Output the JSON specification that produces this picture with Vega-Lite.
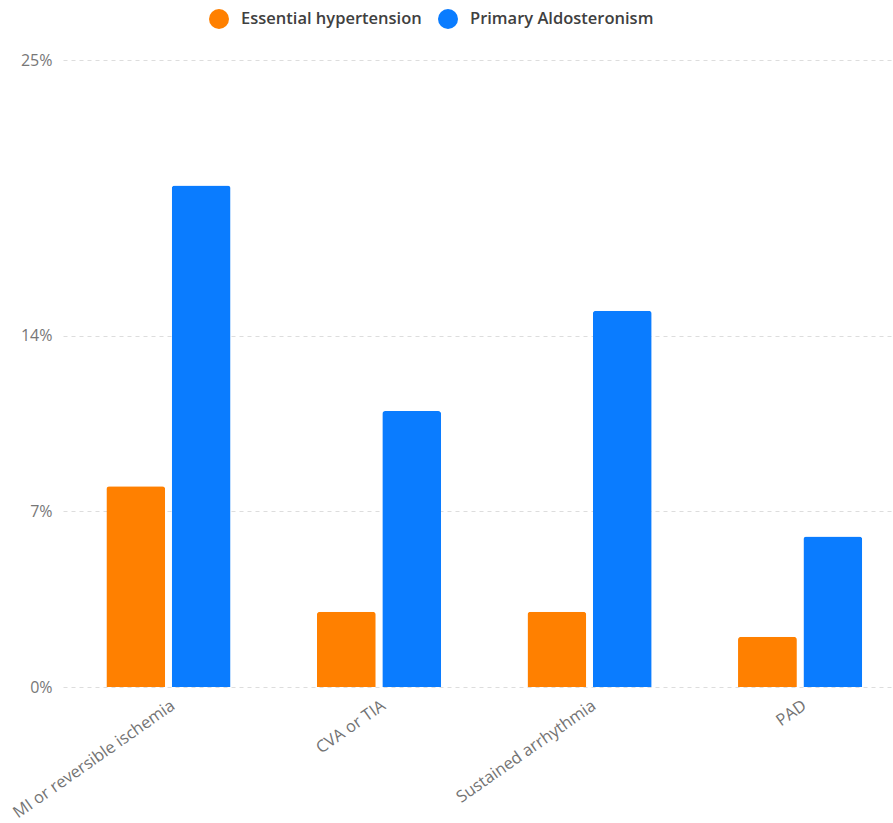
{
  "$schema": "https://vega.github.io/schema/vega-lite/v6.json",
  "autosize": {"type": "none"},
  "width": 830,
  "height": 627,
  "padding": {"left": 63, "top": 60, "right": 0, "bottom": 136},
  "background": "white",
  "config": {
    "font": "Open Sans",
    "view": {"stroke": null}
  },
  "data": {
    "values": [
      {"outcome": "MI or reversible ischemia", "group": "Essential hypertension", "pct": 8},
      {"outcome": "MI or reversible ischemia", "group": "Primary Aldosteronism", "pct": 20},
      {"outcome": "CVA or TIA", "group": "Essential hypertension", "pct": 3},
      {"outcome": "CVA or TIA", "group": "Primary Aldosteronism", "pct": 11},
      {"outcome": "Sustained arrhythmia", "group": "Essential hypertension", "pct": 3},
      {"outcome": "Sustained arrhythmia", "group": "Primary Aldosteronism", "pct": 15},
      {"outcome": "PAD", "group": "Essential hypertension", "pct": 2},
      {"outcome": "PAD", "group": "Primary Aldosteronism", "pct": 6}
    ]
  },
  "mark": {"type": "bar", "cornerRadiusTopLeft": 3, "cornerRadiusTopRight": 3},
  "encoding": {
    "x": {
      "field": "outcome",
      "type": "nominal",
      "sort": null,
      "title": null,
      "scale": {"paddingInner": 0.41, "paddingOuter": 0.176, "align": 0.585},
      "axis": {
        "labelAngle": -35,
        "labelAlign": "right",
        "labelBaseline": "top",
        "labelFontSize": 16.5,
        "labelColor": "#737373",
        "labelPadding": 10,
        "ticks": false,
        "domain": false,
        "labelLimit": 400
      }
    },
    "xOffset": {
      "field": "group",
      "type": "nominal",
      "scale": {"paddingInner": 0.1}
    },
    "y": {
      "field": "pct",
      "type": "quantitative",
      "title": null,
      "scale": {"domain": [0, 25], "nice": false},
      "axis": {
        "values": [0, 7, 14, 25],
        "labelExpr": "datum.value + '%'",
        "labelFontSize": 16,
        "labelColor": "#777777",
        "labelPadding": 11,
        "ticks": false,
        "domain": false,
        "grid": true,
        "gridDash": [4, 4],
        "gridColor": "#dddddd",
        "gridWidth": 1
      }
    },
    "color": {
      "field": "group",
      "type": "nominal",
      "title": null,
      "scale": {"domain": ["Essential hypertension", "Primary Aldosteronism"], "range": ["#FF8000", "#0A7CFF"]},
      "legend": {
        "orient": "none",
        "direction": "horizontal",
        "legendX": 145,
        "legendY": -52,
        "symbolType": "circle",
        "symbolSize": 400,
        "symbolOpacity": 1,
        "labelFontSize": 16.5,
        "labelFontWeight": 600,
        "labelColor": "#404040",
        "labelOffset": 11,
        "labelLimit": 400,
        "columnPadding": 15
      }
    }
  }
}
